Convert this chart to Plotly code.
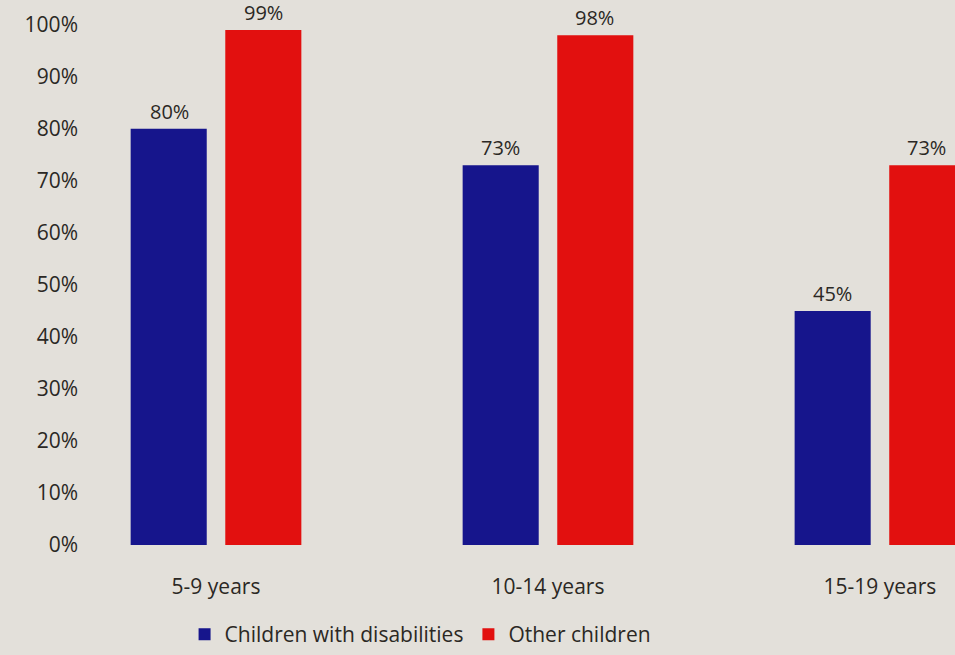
import plotly.graph_objects as go

categories = ["5-9 years", "10-14 years", "15-19 years"]
disabled = [0.80, 0.73, 0.45]
other = [0.99, 0.98, 0.73]
y_ticks = [0, 0.1, 0.2, 0.3, 0.4, 0.5, 0.6, 0.7, 0.8, 0.9, 1.0]

FONT = "Open Sans"
TXT = "#2b2824"
BG = "#e3e0da"
FS = 21

fig = go.Figure()
fig.add_trace(go.Bar(
    x=categories, y=disabled, name="Children with disabilities",
    marker=dict(color="#16158c", line=dict(width=0)),
))
fig.add_trace(go.Bar(
    x=categories, y=other, name="Other children",
    marker=dict(color="#e2100f", line=dict(width=0)),
))

# value labels above bars
for series, shift in ((disabled, -47), (other, 47)):
    for cat, v in zip(categories, series):
        fig.add_annotation(x=cat, y=v, text=f"{v:.0%}", showarrow=False,
                           xshift=shift, yshift=3, yanchor="bottom", borderpad=0,
                           font=dict(family=FONT, size=20, color=TXT))

fig.update_layout(
    width=955, height=655,
    margin=dict(l=95, r=0, t=5, b=109),
    paper_bgcolor=BG, plot_bgcolor=BG,
    barmode="group", bargap=0.43, bargroupgap=0.196,
    font=dict(family=FONT, size=FS, color=TXT),
    showlegend=True,
    legend=dict(orientation="h", x=0.378, xanchor="center", y=-0.166, yanchor="middle",
                font=dict(family=FONT, size=FS, color=TXT), bgcolor="rgba(0,0,0,0)",
                itemwidth=30, traceorder="normal"),
    xaxis=dict(range=[-0.3645, 2.226], showline=False, showgrid=False, zeroline=False,
               ticks="", ticklabelstandoff=27, tickfont=dict(family=FONT, size=FS, color=TXT)),
    yaxis=dict(range=[0, 1.038], tickvals=y_ticks, tickformat=".0%", showline=False,
               showgrid=False, zeroline=False, ticks="", ticklabelstandoff=16,
               tickfont=dict(family=FONT, size=FS, color=TXT)),
)

fig.write_html("out.html")
